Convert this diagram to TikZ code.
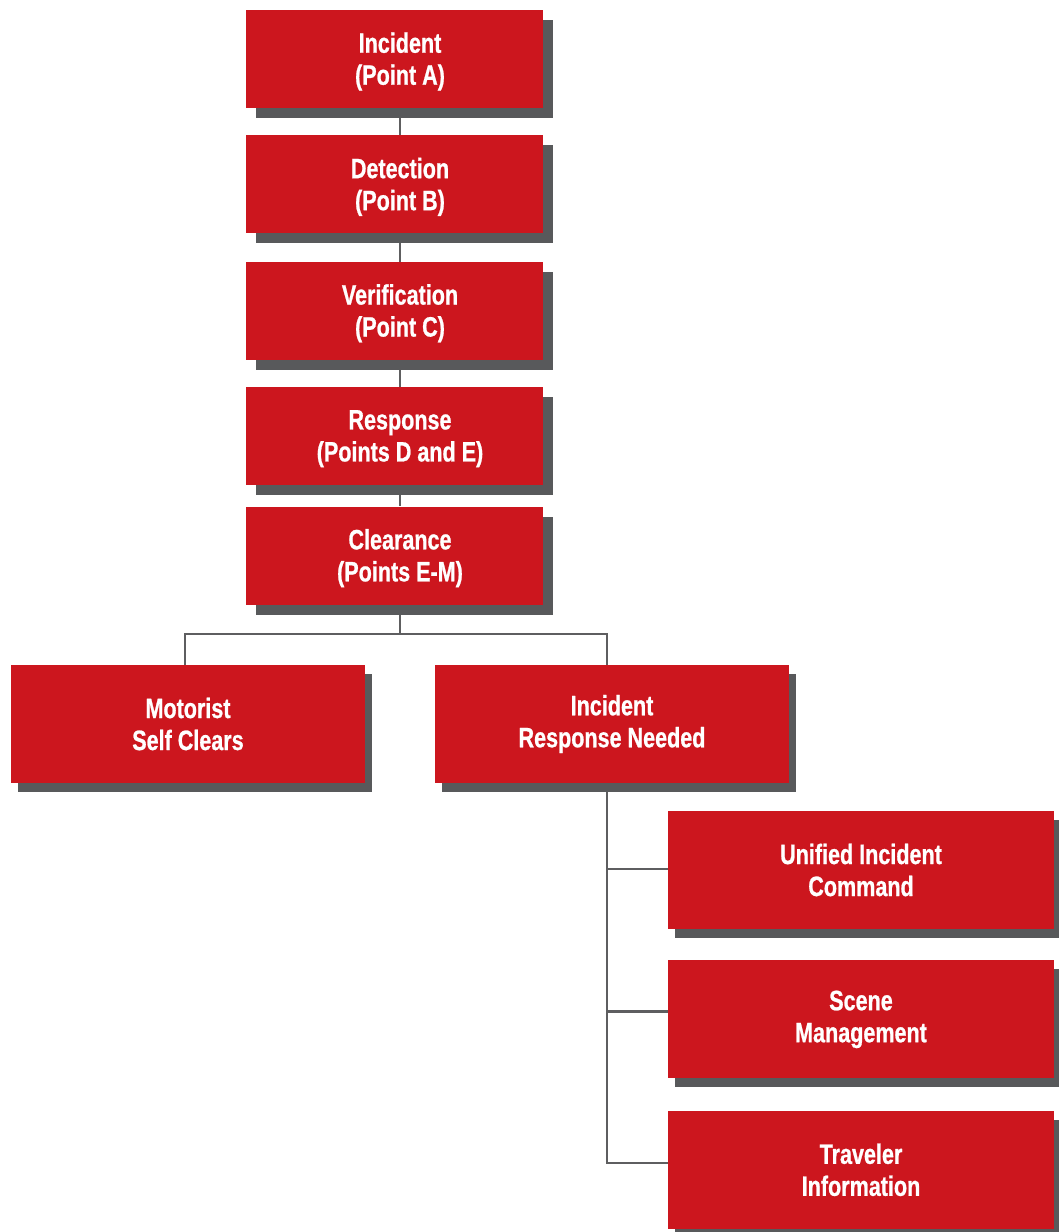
\documentclass[tikz,border=0pt]{standalone}
\usepackage{fontspec}
\setmainfont{Liberation Sans}[FakeStretch=0.77, BoldFeatures={FakeBold=0.8}]
\usepackage{tikz}
\usetikzlibrary{positioning}
\usetikzlibrary{shadows, backgrounds}
\definecolor{boxRed}{HTML}{CC161E}
\definecolor{shadowGray}{HTML}{58595B}
\definecolor{lineGray}{HTML}{5E5E60}
\tikzset{%
	% Specifications for style of nodes:
	base/.style = {rectangle, draw=none, fill=boxRed, text=white,
		inner sep=0pt, align=center,
		font=\fontsize{28}{32}\selectfont\bfseries},
	stageBox/.style = {base, minimum width=297pt, minimum height=98pt,
		general shadow={fill=shadowGray, shadow xshift=10pt, shadow yshift=-10pt},
		label={[base, fill=none, xshift=5.5pt, yshift=-2.5pt]center:#1}},
	branchBox/.style = {base, minimum width=354pt, minimum height=118pt,
		general shadow={fill=shadowGray, shadow xshift=7pt, shadow yshift=-9pt}},
	taskBox/.style = {base, minimum width=386pt, minimum height=118pt,
		general shadow={fill=shadowGray, shadow xshift=7pt, shadow yshift=-9pt}},
	link/.style = {draw=lineGray, line width=2.5pt},
}
\begin{document}
\begin{tikzpicture}[x=1pt, y=-1pt]
\useasboundingbox (0,0) rectangle (1059,1232);

\node (incident) [stageBox={Incident\\(Point A)}] at (394.5,59) {};
\node (detection) [stageBox={Detection\\(Point B)}, below=27pt of incident] {};
\node (verification) [stageBox={Verification\\(Point C)}, below=28pt of detection] {};
\node (response) [stageBox={Response\\(Points D and E)}, below=27pt of verification] {};
\node (clearance) [stageBox={Clearance\\(Points E-M)}, below=21pt of response] {};

\node (motorist) [branchBox] at (188,724) {Motorist\\Self Clears};
\node (respNeeded) [branchBox] at (612,724) {Incident\\Response Needed};

\node (unified) [taskBox] at (861,870) {Unified Incident\\Command};
\node (scene) [taskBox, below=31pt of unified] {Scene\\Management};
\node (traveler) [taskBox, below=32pt of scene] {Traveler\\Information};

\begin{scope}[on background layer]
\draw[link] ([xshift=5.5pt]incident.south) -- ([xshift=5.5pt]detection.north);
\draw[link] ([xshift=5.5pt]detection.south) -- ([xshift=5.5pt]verification.north);
\draw[link] ([xshift=5.5pt]verification.south) -- ([xshift=5.5pt]response.north);
\draw[link] ([xshift=5.5pt]response.south) -- ([xshift=5.5pt]clearance.north);

\coordinate (fork) at (400,634);
\draw[link] ([xshift=5.5pt]clearance.south) -- (fork);
\draw[link] ([xshift=-3pt]motorist.north) |- (fork) -| ([xshift=-5pt]respNeeded.north);

\coordinate (trunk) at ([xshift=-5pt]respNeeded.south);
\draw[link] (trunk) |- ([yshift=1pt]unified.west);
\draw[link] (trunk) |- ([yshift=8pt]scene.west);
\draw[link] (trunk) |- ([yshift=7pt]traveler.west);
\end{scope}
\end{tikzpicture}
\end{document}
